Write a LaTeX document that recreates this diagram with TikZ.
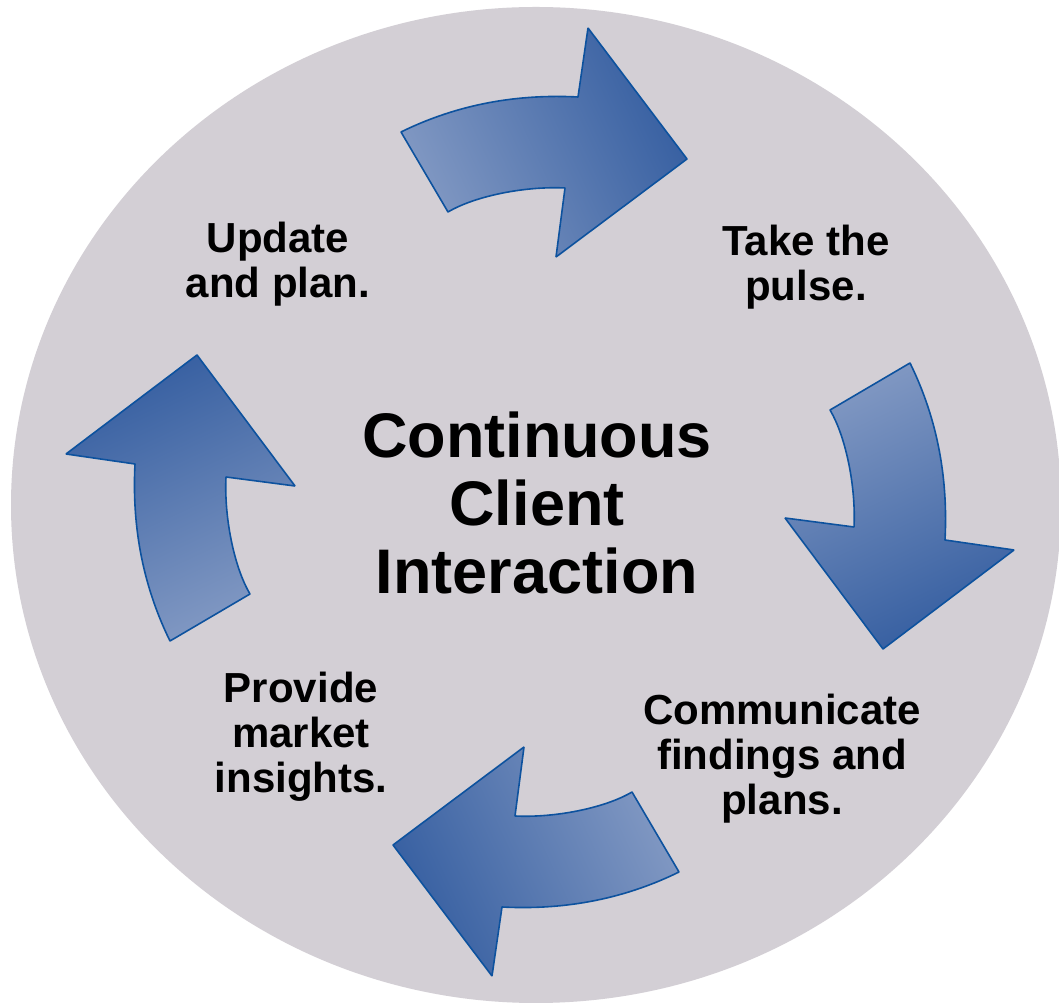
\documentclass[tikz,border=0pt]{standalone}
\usepackage{fontspec}
\setmainfont{Liberation Sans}
\begin{document}
\begin{tikzpicture}[>=latex,line join=bevel,
  cyclearrow/.style={draw=arrowedge,line width=1.6bp,top color=arrowlight,bottom color=arrowdark},
  steptext/.style={align=center,font=\bfseries\fontsize{42bp}{45bp}\selectfont},
  titletext/.style={align=center,font=\bfseries\fontsize{63bp}{68bp}\selectfont}]
  \pgfsetlinewidth{1bp}
  \definecolor{disccol}{rgb}{0.827,0.812,0.835}
  \definecolor{arrowlight}{rgb}{0.51,0.60,0.765}
  \definecolor{arrowdark}{rgb}{0.21,0.37,0.63}
  \definecolor{arrowedge}{rgb}{0.05,0.32,0.62}
  \useasboundingbox[fill=white] (0bp,0bp) rectangle (1059bp,1004bp);
%%
  % Disc
  \fill[disccol] (536bp,499bp) ellipse (525bp and 498bp);
  % Arrow: update -> pulse
  \path[cyclearrow,shading angle=115] (401bp,872bp) .. controls (460bp,901bp) and (520bp,910bp) .. (578bp,907bp)
    -- (588bp,976bp) -- (687bp,845bp) -- (556bp,747bp) -- (565bp,816bp)
    .. controls (525bp,818bp) and (475bp,808bp) .. (448bp,792bp) -- cycle;
  % Arrow: pulse -> findings
  \path[cyclearrow,shading angle=25] (910bp,641bp) .. controls (939bp,582bp) and (948bp,522bp) .. (945bp,464bp)
    -- (1014bp,454bp) -- (883bp,355bp) -- (785bp,486bp) -- (854bp,477bp)
    .. controls (856bp,517bp) and (846bp,567bp) .. (830bp,594bp) -- cycle;
  % Arrow: findings -> insights
  \path[cyclearrow,shading angle=295] (679bp,132bp) .. controls (620bp,103bp) and (560bp,94bp) .. (502bp,97bp)
    -- (492bp,28bp) -- (393bp,159bp) -- (524bp,257bp) -- (515bp,188bp)
    .. controls (555bp,186bp) and (605bp,196bp) .. (632bp,212bp) -- cycle;
  % Arrow: insights -> update
  \path[cyclearrow,shading angle=205] (170bp,363bp) .. controls (141bp,422bp) and (132bp,482bp) .. (135bp,540bp)
    -- (66bp,550bp) -- (197bp,649bp) -- (295bp,518bp) -- (226bp,527bp)
    .. controls (224bp,487bp) and (234bp,437bp) .. (250bp,410bp) -- cycle;
  % Node: centre
  \node (centre) at (537bp,501bp) [titletext] {Continuous\\Client\\Interaction};
  % Node: update
  \node (update) at (278bp,740bp) [steptext] {Update\\and plan.};
  % Node: pulse
  \node (pulse) at (806bp,737bp) [steptext] {Take the\\pulse.};
  % Node: findings
  \node (findings) at (782bp,245bp) [steptext] {Communicate\\findings and\\plans.};
  % Node: insights
  \node (insights) at (301bp,267bp) [steptext] {Provide\\market\\insights.};
%
\end{tikzpicture}
\end{document}
